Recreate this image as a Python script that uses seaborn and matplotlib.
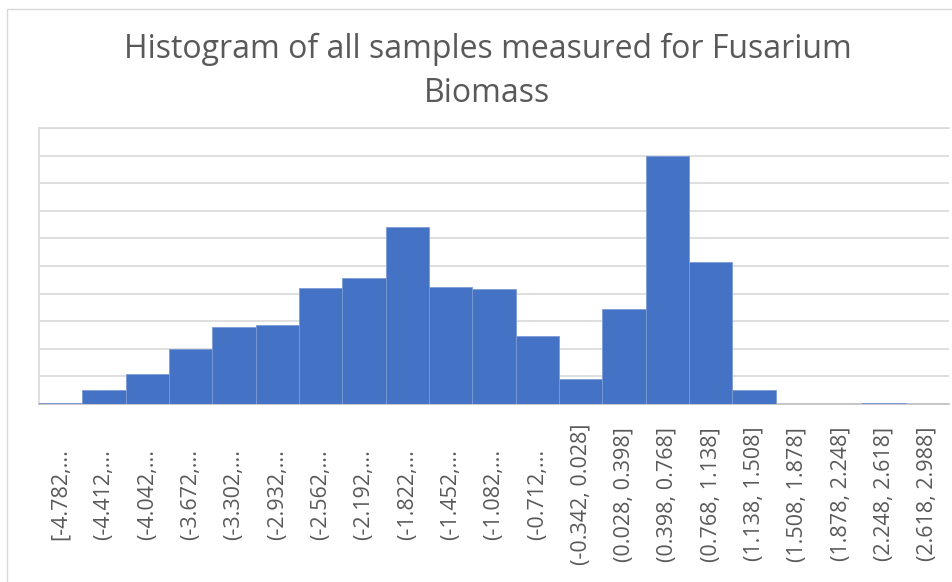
import matplotlib
matplotlib.use("Agg")
import matplotlib.pyplot as plt
import seaborn as sns

# Bin labels (Excel histogram style) and counts per bin
bin_labels = [
    "[-4.782,...", "(-4.412,...", "(-4.042,...", "(-3.672,...", "(-3.302,...",
    "(-2.932,...", "(-2.562,...", "(-2.192,...", "(-1.822,...", "(-1.452,...",
    "(-1.082,...", "(-0.712,...", "(-0.342, 0.028]", "(0.028, 0.398]",
    "(0.398, 0.768]", "(0.768, 1.138]", "(1.138, 1.508]", "(1.508, 1.878]",
    "(1.878, 2.248]", "(2.248, 2.618]", "(2.618, 2.988]",
]
counts = [1, 10, 22, 40, 56, 57, 84, 91, 128, 85, 83, 49, 18, 69, 180, 103, 10, 0, 0, 1, 0]

title = "Histogram of all samples measured for Fusarium\nBiomass"
bar_color = "#4472C4"
text_color = "#595959"
grid_color = "#D9D9D9"

sns.set_style("white")
plt.rcParams["font.family"] = ["Open Sans", "DejaVu Sans"]

fig = plt.figure(figsize=(9.52, 5.82), dpi=100)
ax = fig.add_axes([0.041, 0.306, 0.956, 0.474])

sns.barplot(x=bin_labels, y=counts, width=1.0, color=bar_color, saturation=1,
            edgecolor="#7C9BD6", linewidth=0.6, ax=ax, zorder=3)

ax.set_ylim(0, 200)
ax.set_xlim(-0.5, len(bin_labels) - 0.5)
ax.set_yticks(range(0, 201, 20))
ax.set_yticklabels([])
ax.yaxis.grid(True, color=grid_color, linewidth=1.2, zorder=0)
ax.set_axisbelow(True)

ax.spines["right"].set_visible(False)
for side in ["left", "top"]:
    ax.spines[side].set_color(grid_color)
    ax.spines[side].set_linewidth(1.2)
ax.spines["bottom"].set_color("#BFBFBF")
ax.spines["bottom"].set_linewidth(1.2)

ax.tick_params(axis="both", length=0)
ax.tick_params(axis="x", pad=65, labelsize=15.5, labelcolor=text_color)
for lab in ax.get_xticklabels():
    lab.set_rotation(90)
    lab.set_va("center")
    lab.set_ha("center")
ax.set_xlabel("")
ax.set_ylabel("")

fig.text(0.512, 0.877, title, ha="center", va="center", fontsize=23,
         color=text_color, linespacing=1.42)

# chart area border
fig.patches.append(plt.Rectangle((7 / 952, -0.1), 1.2, 1 - 9 / 582 + 0.1,
                                 transform=fig.transFigure, fill=False,
                                 edgecolor="#D9D9D9", linewidth=1.0))

fig.savefig("out.png", dpi=100)
